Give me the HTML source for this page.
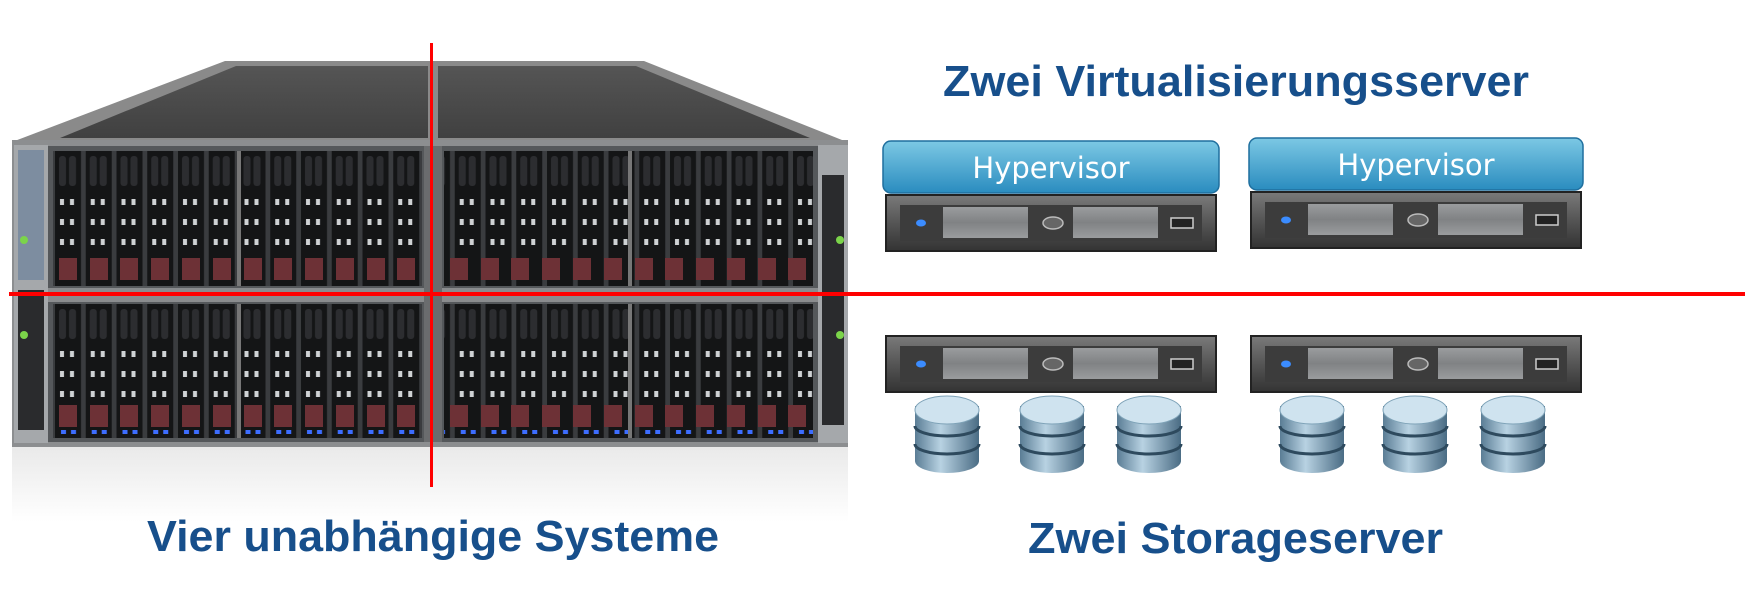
<!DOCTYPE html>
<html><head><meta charset="utf-8"><style>html,body{margin:0;padding:0;background:#fff}svg{display:block}</style></head>
<body>
<svg width="1745" height="608" viewBox="0 0 1745 608" xmlns="http://www.w3.org/2000/svg">
<defs>
<pattern id="drv" x="53" y="0" width="30.75" height="608" patternUnits="userSpaceOnUse">
<rect x="0" y="0" width="30.75" height="608" fill="#3a3c3f"/>
<rect x="2" y="0" width="26" height="608" fill="#141516"/>
<g fill="#2c2d30">
<rect x="6" y="156" width="7" height="30" rx="3"/><rect x="16" y="156" width="7" height="30" rx="3"/>
<rect x="6" y="309" width="7" height="30" rx="3"/><rect x="16" y="309" width="7" height="30" rx="3"/>
</g>
<g fill="#cfd2d4">
<rect x="7" y="199" width="4" height="6"/><rect x="17" y="199" width="4" height="6"/>
<rect x="7" y="219" width="4" height="6"/><rect x="17" y="219" width="4" height="6"/>
<rect x="7" y="239" width="4" height="6"/><rect x="17" y="239" width="4" height="6"/>
<rect x="7" y="351" width="4" height="6"/><rect x="17" y="351" width="4" height="6"/>
<rect x="7" y="371" width="4" height="6"/><rect x="17" y="371" width="4" height="6"/>
<rect x="7" y="391" width="4" height="6"/><rect x="17" y="391" width="4" height="6"/>
</g>
<g fill="#3d6dff">
<rect x="8" y="430" width="5" height="4"/><rect x="18" y="430" width="5" height="4"/>
</g>
</pattern>
<linearGradient id="roof" x1="0" y1="0" x2="0" y2="1"><stop offset="0" stop-color="#555"/><stop offset="1" stop-color="#404040"/></linearGradient>
<linearGradient id="hyp" x1="0" y1="0" x2="0" y2="1"><stop offset="0" stop-color="#7cc8e4"/><stop offset="1" stop-color="#2a8cbf"/></linearGradient>
<linearGradient id="srv" x1="0" y1="0" x2="0" y2="1"><stop offset="0" stop-color="#7a7a7a"/><stop offset="0.5" stop-color="#555"/><stop offset="1" stop-color="#333"/></linearGradient>
<linearGradient id="bay" x1="0" y1="0" x2="0" y2="1"><stop offset="0" stop-color="#9a9c9e"/><stop offset="0.5" stop-color="#808284"/><stop offset="1" stop-color="#9a9c9e"/></linearGradient>
<linearGradient id="disk" x1="0" y1="0" x2="1" y2="0"><stop offset="0" stop-color="#5a7d95"/><stop offset="0.4" stop-color="#b8d2e2"/><stop offset="1" stop-color="#4a6c84"/></linearGradient>
<linearGradient id="refl" x1="0" y1="0" x2="0" y2="1"><stop offset="0" stop-color="#d8d8d8"/><stop offset="1" stop-color="#fff"/></linearGradient>
<g id="server">
<rect x="0" y="0" width="330" height="56" fill="url(#srv)" stroke="#222" stroke-width="2"/>
<rect x="14" y="10" width="302" height="36" fill="#3c3c3c"/>
<ellipse cx="35" cy="28" rx="5" ry="3.5" fill="#3b8cff"/>
<rect x="57" y="12" width="85" height="31" fill="url(#bay)"/>
<rect x="187" y="12" width="85" height="31" fill="url(#bay)"/>
<ellipse cx="167" cy="28" rx="10" ry="6" fill="#666" stroke="#bbb" stroke-width="1.5"/>
<rect x="285" y="23" width="22" height="10" fill="#222" stroke="#ccc" stroke-width="1.5"/>
</g>
<g id="dsk">
<path d="M0 10 v55 a32 12 0 0 0 64 0 v-55" fill="url(#disk)"/>
<path d="M0 30 a32 10 0 0 0 64 0 M0 48 a32 10 0 0 0 64 0" fill="none" stroke="#2e4a5e" stroke-width="3"/>
<ellipse cx="32" cy="14" rx="32" ry="14" fill="#cfe3ef" stroke="#7fa3b8"/>
</g>
</defs>

<rect x="12" y="447" width="836" height="75" fill="url(#refl)" opacity="0.55"/>

<polygon points="225,61 644,61 847,142 12,142" fill="#8a8a8a"/>
<polygon points="236,66 428,66 428,138 60,138" fill="url(#roof)"/>
<polygon points="438,66 636,66 810,138 438,138" fill="url(#roof)"/>

<rect x="12" y="140" width="836" height="307" fill="#8c8e90"/>
<rect x="14" y="145" width="34" height="298" fill="#a5a8ab"/>
<rect x="18" y="150" width="26" height="130" fill="#7d8da0"/>
<rect x="18" y="290" width="26" height="140" fill="#2a2b2d"/>
<rect x="818" y="145" width="30" height="298" fill="#a5a8ab"/>
<rect x="822" y="175" width="22" height="250" fill="#2a2b2d"/>
<circle cx="24" cy="240" r="4" fill="#7bd44a"/><circle cx="24" cy="335" r="4" fill="#7bd44a"/>
<circle cx="840" cy="240" r="4" fill="#7bd44a"/><circle cx="840" cy="335" r="4" fill="#7bd44a"/>
<rect x="48" y="146" width="770" height="296" fill="#55585b"/>

<rect x="53" y="151" width="369" height="135" fill="url(#drv)"/>
<rect x="53" y="304" width="369" height="134" fill="url(#drv)"/>
<rect x="444" y="151" width="369" height="135" fill="url(#drv)"/>
<rect x="444" y="304" width="369" height="134" fill="url(#drv)"/>
<g fill="#6d3136">
<rect x="59" y="258" width="18" height="22"/><rect x="90" y="258" width="18" height="22"/><rect x="120" y="258" width="18" height="22"/><rect x="151" y="258" width="18" height="22"/><rect x="182" y="258" width="18" height="22"/><rect x="213" y="258" width="18" height="22"/><rect x="244" y="258" width="18" height="22"/><rect x="274" y="258" width="18" height="22"/><rect x="305" y="258" width="18" height="22"/><rect x="336" y="258" width="18" height="22"/><rect x="367" y="258" width="18" height="22"/><rect x="397" y="258" width="18" height="22"/>
<rect x="450" y="258" width="18" height="22"/><rect x="481" y="258" width="18" height="22"/><rect x="511" y="258" width="18" height="22"/><rect x="542" y="258" width="18" height="22"/><rect x="573" y="258" width="18" height="22"/><rect x="604" y="258" width="18" height="22"/><rect x="635" y="258" width="18" height="22"/><rect x="665" y="258" width="18" height="22"/><rect x="696" y="258" width="18" height="22"/><rect x="727" y="258" width="18" height="22"/><rect x="758" y="258" width="18" height="22"/><rect x="788" y="258" width="18" height="22"/>
<rect x="59" y="405" width="18" height="22"/><rect x="90" y="405" width="18" height="22"/><rect x="120" y="405" width="18" height="22"/><rect x="151" y="405" width="18" height="22"/><rect x="182" y="405" width="18" height="22"/><rect x="213" y="405" width="18" height="22"/><rect x="244" y="405" width="18" height="22"/><rect x="274" y="405" width="18" height="22"/><rect x="305" y="405" width="18" height="22"/><rect x="336" y="405" width="18" height="22"/><rect x="367" y="405" width="18" height="22"/><rect x="397" y="405" width="18" height="22"/>
<rect x="450" y="405" width="18" height="22"/><rect x="481" y="405" width="18" height="22"/><rect x="511" y="405" width="18" height="22"/><rect x="542" y="405" width="18" height="22"/><rect x="573" y="405" width="18" height="22"/><rect x="604" y="405" width="18" height="22"/><rect x="635" y="405" width="18" height="22"/><rect x="665" y="405" width="18" height="22"/><rect x="696" y="405" width="18" height="22"/><rect x="727" y="405" width="18" height="22"/><rect x="758" y="405" width="18" height="22"/><rect x="788" y="405" width="18" height="22"/>
</g>
<rect x="237" y="151" width="4" height="135" fill="#777"/><rect x="237" y="304" width="4" height="134" fill="#777"/>
<rect x="628" y="151" width="4" height="135" fill="#777"/><rect x="628" y="304" width="4" height="134" fill="#777"/>
<rect x="48" y="288" width="770" height="14" fill="#8a8c8e"/>
<rect x="424" y="146" width="18" height="296" fill="#6a6c6e"/>

<rect x="9" y="292" width="1736" height="4" fill="#ff0000"/>
<rect x="430" y="43" width="3" height="444" fill="#ff0000"/>

<rect x="883" y="141" width="336" height="52" rx="8" fill="url(#hyp)" stroke="#1f6f9e" stroke-width="1.5"/>
<text x="1051" y="178" text-anchor="middle" font-family="DejaVu Sans, sans-serif" font-size="29" fill="#fff">Hypervisor</text>
<rect x="1249" y="138" width="334" height="52" rx="8" fill="url(#hyp)" stroke="#1f6f9e" stroke-width="1.5"/>
<text x="1416" y="175" text-anchor="middle" font-family="DejaVu Sans, sans-serif" font-size="29" fill="#fff">Hypervisor</text>
<use href="#server" x="886" y="195"/>
<use href="#server" x="1251" y="192"/>
<use href="#server" x="886" y="336"/>
<use href="#server" x="1251" y="336"/>
<use href="#dsk" x="915" y="396"/><use href="#dsk" x="1020" y="396"/><use href="#dsk" x="1117" y="396"/>
<use href="#dsk" x="1280" y="396"/><use href="#dsk" x="1383" y="396"/><use href="#dsk" x="1481" y="396"/>

<g font-family="Liberation Sans, sans-serif" font-weight="bold" font-size="44" fill="#174f8b">
<text x="943" y="96" textLength="586" lengthAdjust="spacingAndGlyphs">Zwei Virtualisierungsserver</text>
<text x="1028" y="553" textLength="415" lengthAdjust="spacingAndGlyphs">Zwei Storageserver</text>
<text x="147" y="551" textLength="572" lengthAdjust="spacingAndGlyphs">Vier unabhängige Systeme</text>
</g>
</svg>
</body></html>
